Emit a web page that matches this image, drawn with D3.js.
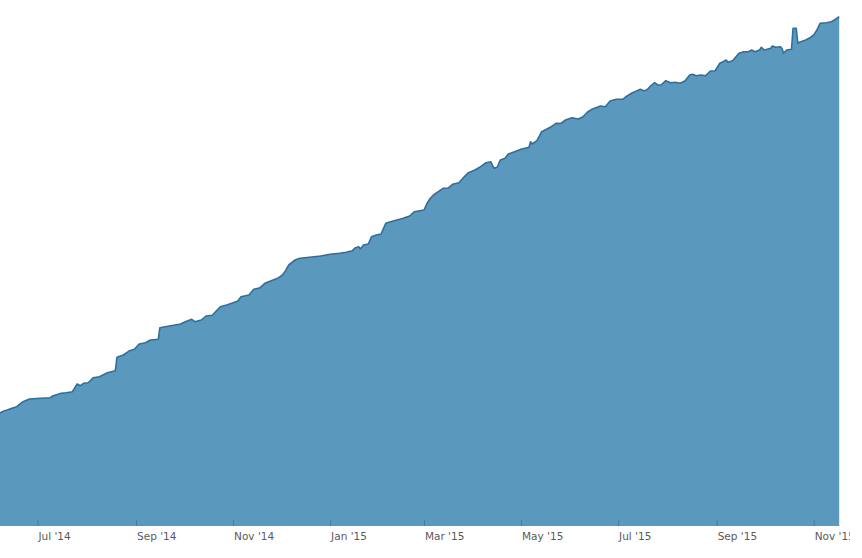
<!DOCTYPE html>
<html>
<head>
<meta charset="utf-8">
<script src="https://cdn.jsdelivr.net/npm/d3@7"></script>
<style>
  html, body { margin: 0; padding: 0; background: #fff; }
  svg { display: block; }
</style>
</head>
<body>
<svg id="chart" width="850" height="558"></svg>
<script>
// Day offsets from 2014-06-07 and cumulative values
const startDate = "2014-06-07";
const dayOffsets = [0,3,5,8,11,15,19,26,32,34,37,39,42,46,49,51,53,56,59,63,68,73,74,78,82,85,88,92,95,100,
  101,107,114,117,121,123,127,130,134,137,139,143,147,150,152,157,160,164,167,171,175,178,180,182,186,189,195,202,208,214,
  218,222,224,226,227,229,232,234,237,240,243,246,250,254,258,261,267,269,271,273,276,279,282,285,289,292,295,299,302,306,
  309,311,313,315,318,320,324,328,333,334,335,338,341,344,347,350,353,356,360,364,367,370,373,378,381,384,388,392,394,398,
  401,403,405,407,409,412,414,416,419,422,425,428,431,434,436,438,441,444,447,450,453,455,457,458,461,465,468,471,473,475,
  478,479,481,485,486,488,491,492,493,495,498,499,501,502,503,507,509,512,514,516,520,523,525,528];
const values = [1127,1150,1160,1177,1193,1243,1270,1277,1283,1303,1317,1327,1333,1343,1420,1403,1427,1433,1483,1493,1533,1553,1687,1710,1753,1767,1820,1833,1860,1867,
  1983,2000,2020,2043,2067,2043,2060,2100,2107,2160,2193,2210,2233,2250,2293,2310,2367,2383,2427,2453,2477,2510,2553,2610,2660,2677,2687,2700,2717,2727,
  2737,2753,2783,2793,2770,2810,2820,2893,2910,2920,3027,3043,3060,3077,3100,3143,3160,3227,3277,3310,3343,3377,3377,3417,3433,3487,3533,3560,3587,3633,
  3643,3577,3587,3660,3677,3720,3743,3767,3787,3843,3820,3853,3943,3967,3993,4027,4025,4060,4083,4070,4093,4143,4170,4200,4193,4250,4267,4267,4293,4333,
  4353,4367,4353,4360,4393,4433,4410,4410,4453,4433,4437,4427,4450,4510,4517,4503,4510,4503,4550,4553,4627,4643,4660,4637,4653,4727,4743,4743,4760,4743,
  4760,4787,4760,4777,4800,4787,4793,4777,4727,4760,4767,4977,4977,4827,4837,4860,4877,4910,4960,5027,5033,5043,5060,5093];
const tickDates = ["2014-07-01","2014-09-01","2014-11-01","2015-01-01","2015-03-01","2015-05-01","2015-07-01","2015-09-01","2015-11-01"];
const domainStart = "2014-06-07";
const domainEnd = "2015-11-17";
const yMax = 5260;

const parse = d3.timeParse("%Y-%m-%d");
const base = parse(startDate);
const data = dayOffsets.map((d, i) => ({ date: d3.timeDay.offset(base, d), value: values[i] }));

const svg = d3.select("#chart");
const bottom = 526;

const x = d3.scaleTime()
  .domain([parse(domainStart), parse(domainEnd)])
  .range([-0.8, 839.2]);
const y = d3.scaleLinear().domain([0, yMax]).range([bottom, 0]);

const area = d3.area()
  .x(d => x(d.date))
  .y0(bottom)
  .y1(d => y(d.value));
const line = d3.line()
  .x(d => x(d.date))
  .y(d => y(d.value));

svg.append("path").datum(data)
  .attr("d", area)
  .attr("fill", "#5b98bd");
svg.append("path").datum(data)
  .attr("d", line)
  .attr("fill", "none")
  .attr("stroke", "#2f6f9c")
  .attr("stroke-width", 1.6)
  .attr("stroke-linejoin", "round");

const axis = d3.axisBottom(x)
  .tickValues(tickDates.map(parse))
  .tickFormat(d3.timeFormat("%b '%y"))
  .tickSizeInner(6)
  .tickSizeOuter(0)
  .tickPadding(0);

const g = svg.append("g")
  .attr("transform", `translate(0,${bottom - 6})`)
  .call(axis);
g.select(".domain").remove();
g.selectAll(".tick line")
  .attr("stroke", "rgba(40,70,100,0.35)")
  .attr("stroke-width", 1);
g.selectAll(".tick text")
  .attr("text-anchor", "start")
  .attr("x", 0.5)
  .attr("y", 20)
  .attr("dy", 0)
  .attr("fill", "#5a5a5a")
  .style("font-family", "'DejaVu Sans', sans-serif")
  .style("font-size", "10.5px");
</script>
</body>
</html>
